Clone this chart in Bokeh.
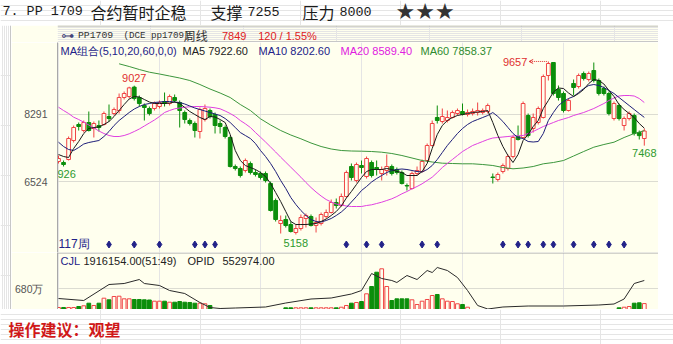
import numpy as np
from bokeh.plotting import figure
from bokeh.models import Range1d, FixedTicker, Spacer, Arrow, OpenHead
from bokeh.layouts import column, row
from bokeh.embed import file_html
from bokeh.resources import INLINE
from bokeh.core.properties import value

# ---------------- data (weekly candles, PP1709) ----------------
opens = [7056, 7030, 7108, 7602, 8018, 7862, 8070, 7914, 7992, 8018,
         8226, 8304, 8382, 8720, 8746, 8990, 8720, 8512, 8434, 8434,
         8486, 8616, 8564, 8720, 8590, 8330, 8122, 8044, 7836, 8148,
         8382, 8278, 8044, 7940, 7680, 6926, 6874, 6822, 7004, 6770,
         6744, 6744, 6484, 6042, 5444, 5548, 5418, 5210, 5314, 5574,
         5626, 5392, 5444, 5626, 5730, 5990, 5912, 6146, 6926, 6562,
         6952, 6666, 7030, 6900, 6744, 6822, 6926, 6848, 6770, 6432,
         6354, 6744, 6796, 7082, 7472, 8200, 8096, 8122, 8200, 8304,
         8356, 8278, 8304, 8330, 8330, 8356, 6653, 6588, 6796, 6874,
         7186, 7706, 7680, 8252, 7914, 8070, 8200, 9292, 9630, 8928,
         8824, 8382, 9084, 9006, 9344, 9188, 9422, 9162, 8954, 8824,
         8174, 8512, 7992, 8174, 8252, 7810, 7654]
highs = [7212, 7082, 7706, 7992, 8070, 8122, 8356, 8096, 8122, 8356,
         8538, 8460, 8824, 8876, 9000, 9027, 8772, 8564, 8486, 8616,
         8642, 8850, 8798, 8798, 8642, 8382, 8174, 8096, 8460, 8538,
         8434, 8330, 8122, 7992, 7732, 6978, 6926, 7134, 7056, 6848,
         6796, 6796, 6536, 6094, 5652, 5652, 5496, 5418, 5678, 5704,
         5678, 5600, 5730, 5808, 6068, 6094, 6224, 6822, 7004, 7030,
         7082, 7186, 7082, 7082, 6926, 7238, 6978, 6900, 6822, 6484,
         6796, 6926, 7108, 7524, 8122, 8512, 8434, 8382, 8382, 8434,
         8564, 8408, 8434, 8590, 8434, 8564, 6744, 6770, 7004, 7238,
         7732, 7992, 8616, 8304, 8304, 8486, 9318, 9657, 9640, 9032,
         8876, 8694, 9188, 9344, 9396, 9396, 9630, 9214, 9006, 8876,
         8616, 8564, 8226, 8356, 8304, 7862, 7914]
lows = [7004, 6926, 7082, 7550, 7862, 7810, 7836, 7680, 7836, 7992,
        8096, 8252, 8304, 8668, 8694, 8642, 8486, 8122, 8252, 8382,
        8434, 8486, 8512, 8590, 7940, 8044, 7992, 7680, 7654, 8096,
        8174, 7784, 7784, 7654, 6900, 6822, 6640, 6770, 6718, 6666,
        6588, 6510, 5756, 5496, 5184, 5340, 5210, 5158, 5262, 5340,
        5366, 5210, 5392, 5574, 5704, 5834, 5886, 6120, 6562, 6510,
        6744, 6614, 6640, 6692, 6562, 6692, 6692, 6718, 6458, 6302,
        6328, 6692, 6770, 7056, 7446, 8044, 8044, 8070, 8174, 8252,
        8252, 8226, 8252, 8252, 8278, 8304, 6484, 6536, 6744, 6822,
        7134, 7602, 7654, 7680, 7810, 8018, 8174, 9162, 8772, 8642,
        8330, 8356, 8772, 8954, 9162, 9136, 9110, 8772, 8772, 8252,
        8122, 8122, 7862, 8122, 7732, 7628, 7468]
closes = [7134, 6978, 7654, 7940, 7966, 8070, 7862, 8044, 7940, 8304,
          8174, 8408, 8720, 8824, 8970, 8694, 8564, 8460, 8304, 8564,
          8590, 8564, 8746, 8642, 8382, 8148, 8044, 7862, 8408, 8434,
          8226, 7992, 7966, 7706, 6926, 6874, 6692, 7082, 6770, 6718,
          6640, 6562, 5782, 5548, 5522, 5392, 5236, 5314, 5600, 5652,
          5392, 5470, 5678, 5730, 5990, 5912, 6146, 6770, 6640, 6978,
          6900, 7134, 6692, 6848, 6848, 6926, 6744, 6770, 6484, 6419,
          6744, 6822, 7056, 7472, 8044, 8122, 8226, 8200, 8330, 8382,
          8278, 8330, 8356, 8382, 8382, 8512, 6640, 6718, 6952, 7186,
          7680, 7628, 8564, 7732, 8200, 8434, 9266, 9604, 8824, 8720,
          8382, 8642, 8980, 9292, 9214, 9344, 9162, 8824, 8824, 8304,
          8564, 8174, 8174, 8304, 7784, 7729, 7849]

ma5 = [7238, 7186, 7160, 7394, 7576, 7784, 7914, 7940, 7953, 8018,
       8096, 8226, 8382, 8538, 8681, 8746, 8733, 8668, 8603, 8564,
       8564, 8564, 8577, 8603, 8564, 8460, 8356, 8278, 8200, 8148,
       8226, 8213, 8148, 8070, 7758, 7342, 7082, 6952, 6900, 6848,
       6770, 6666, 6484, 6250, 6016, 5756, 5496, 5418, 5418, 5418,
       5431, 5444, 5496, 5561, 5652, 5756, 5899, 6107, 6276, 6458,
       6640, 6796, 6848, 6848, 6848, 6874, 6848, 6796, 6770, 6692,
       6692, 6692, 6796, 7004, 7394, 7758, 7992, 8122, 8200, 8252,
       8278, 8304, 8330, 8343, 8356, 8382, 8070, 7732, 7446, 7212,
       7030, 7238, 7602, 7758, 7966, 8122, 8434, 8642, 8863, 8967,
       8954, 8837, 8746, 8824, 8928, 9084, 9188, 9162, 9071, 8902,
       8746, 8538, 8408, 8304, 8200, 8044, 7922.6]
ma10 = [7558, 7446, 7368, 7342, 7420, 7511, 7550, 7576, 7602, 7706,
        7836, 7992, 8122, 8226, 8330, 8421, 8486, 8538, 8564, 8590,
        8603, 8616, 8616, 8603, 8590, 8551, 8499, 8447, 8408, 8369,
        8330, 8291, 8252, 8174, 8070, 7940, 7810, 7732, 7654, 7524,
        7342, 7186, 7004, 6796, 6562, 6354, 6120, 5938, 5782, 5652,
        5548, 5496, 5483, 5522, 5574, 5652, 5743, 5860, 6003, 6146,
        6302, 6406, 6523, 6614, 6692, 6770, 6822, 6848, 6861, 6848,
        6822, 6796, 6783, 6848, 6952, 7108, 7290, 7472, 7628, 7784,
        7914, 8018, 8096, 8148, 8200, 8252, 8330, 8226, 8096, 7940,
        7784, 7680, 7654, 7576, 7563, 7576, 7784, 8122, 8330, 8512,
        8616, 8694, 8746, 8850, 8954, 9032, 9058, 9032, 8980, 8902,
        8824, 8720, 8616, 8512, 8408, 8304, 8202.6]
ma20 = [8468, 8382, 8304, 8208, 8148, 8078, 8005, 7927, 7849, 7784,
        7732, 7706, 7706, 7732, 7776, 7836, 7901, 7979, 8057, 8135,
        8226, 8330, 8382, 8426, 8447, 8468, 8478, 8486, 8486, 8478,
        8468, 8452, 8426, 8369, 8304, 8226, 8122, 8036, 7940, 7810,
        7688, 7563, 7433, 7303, 7168, 7038, 6908, 6778, 6648, 6510,
        6380, 6263, 6159, 6068, 6003, 5951, 5925, 5899, 5886, 5886,
        5886, 5912, 5930, 5964, 5998, 6042, 6086, 6146, 6216, 6276,
        6346, 6406, 6476, 6562, 6648, 6770, 6900, 7004, 7108, 7212,
        7316, 7394, 7472, 7524, 7576, 7628, 7667, 7680, 7693, 7706,
        7719, 7724, 7732, 7784, 7836, 7901, 7966, 8018, 8070, 8122,
        8161, 8200, 8252, 8291, 8330, 8382, 8434, 8499, 8564, 8642,
        8707, 8759, 8772, 8772, 8759, 8694, 8589.4]
ma60_idx = list(range(12, 117, 2))
ma60 = [9596, 9526, 9448, 9378, 9331, 9279, 9227, 9162, 9058, 8941,
        8837, 8720, 8538, 8382, 8166, 8005, 7862, 7745, 7646, 7537,
        7446, 7381, 7342, 7329, 7324, 7316, 7298, 7264, 7212, 7147,
        7082, 7043, 7012, 7004, 6996, 6996, 6978, 6952, 6900, 6866,
        6887, 6926, 6996, 7030, 7082, 7199, 7316, 7428, 7498, 7558,
        7680, 7784, 7858.37]

# volume in 10k lots (万)
volume_wan = [65, 65, 65, 65, 97, 120, 204, 130, 204, 366,
              314, 421, 431, 346, 346, 324, 324, 314, 308, 269,
              269, 269, 236, 236, 259, 236, 227, 204, 204, 185,
              130, 0, 0, 0, 0, 0, 0, 0, 0, 0,
              0, 0, 0, 0, 0, 55, 55, 55, 55, 55,
              55, 55, 55, 55, 55, 55, 74, 130, 204, 227,
              259, 508, 745, 1208, 1318, 745, 291, 346, 346, 346,
              314, 162, 269, 324, 453, 486, 346, 269, 259, 185,
              162, 74, 0, 0, 0, 0, 0, 0, 0, 0,
              0, 0, 0, 0, 0, 0, 0, 0, 0, 0,
              0, 0, 0, 0, 0, 0, 0, 0, 0, 0,
              0, 55, 74, 97, 204, 217, 191.6154]
opid_idx = [0, 5, 10, 13, 16, 17, 20, 22, 25, 28, 30, 32, 35, 41, 45, 50, 54, 58, 60, 62,
            64, 66, 67, 69, 71, 73, 74, 75, 77, 79, 81, 83, 85, 88, 93, 100, 107, 110, 112, 114, 116]
opid = [209748, 171612, 476700, 495768, 572040, 495768, 457632, 362292, 305088, 133476,
        38136, 19068, 28602, 47670, 123942, 200214, 219282, 295554, 362292, 686448,
        591108, 552972, 514836, 648312, 572040, 743652, 705516, 800856, 743652, 610176,
        362292, 76272, 9534, 47670, 66738, 66738, 85806, 104874, 200214, 495768, 552974]

signal_idx = [10, 15, 20, 27, 29, 31, 57, 61, 64, 72, 75, 88, 91, 93, 96, 98, 102, 106, 109, 112]

price_ticks = [6524, 8291]
vol_ticks = [6800000]
vol_tick_labels = ["680万"]

# ---------------- style ----------------
CREAM = "#FFFFEE"
RED = "#F04444"
GREEN = "#0B8E0B"
AXIS = "#A8A8A8"
GRID = "#DCDCD2"
NAVY = "#222288"

N = len(closes)
idx = list(range(N))
up = [c >= o for o, c in zip(opens, closes)]
colors = [RED if u else GREEN for u in up]
fills = [CREAM if u else GREEN for u in up]
body_top = [max(o, c) for o, c in zip(opens, closes)]
body_bot = [min(o, c) for o, c in zip(opens, closes)]


def pix_fig(w, h, bg):
    p = figure(width=w, height=h, x_range=Range1d(0, w), y_range=Range1d(h, 0),
               output_backend="svg", toolbar_location=None,
               x_axis_location=None, y_axis_location=None)
    p.min_border_left = p.min_border_right = p.min_border_top = p.min_border_bottom = 0
    p.background_fill_color = bg
    p.border_fill_color = bg
    p.outline_line_color = None
    return p


def txt(p, x, y, s, color, size, font, align="left", baseline="middle", style="normal", **kw):
    p.text(x=[x], y=[y], text=[s], text_color=color, text_font_size=size,
           text_font=value(font), text_align=align, text_baseline=baseline,
           text_font_style=style, **kw)


# ---------------- title ----------------
ft = pix_fig(673, 25, "white")
TC = "#1a1a1a"
txt(ft, 2, 11, "7. PP 1709", TC, "13.4px", "Liberation Mono")
txt(ft, 90, 11, "合约暂时企稳", TC, "16px", "Noto Sans CJK SC")
txt(ft, 210, 11, "支撑", TC, "16px", "Noto Sans CJK SC")
txt(ft, 247, 11, "7255", TC, "13.4px", "Liberation Mono")
txt(ft, 302, 11, "压力", TC, "16px", "Noto Sans CJK SC")
txt(ft, 339, 11, "8000", TC, "13.4px", "Liberation Mono")
txt(ft, 395, 11, "★★★", "#333333", "22px", "DejaVu Sans")

# ---------------- left border strip ----------------
lb = pix_fig(11, 284, "white")
lb.segment(x0=[10.5], y0=[0], x1=[10.5], y1=[284], line_color=AXIS, line_width=1)

# ---------------- header row ----------------
fh = pix_fig(647, 17, CREAM)
fh.segment(x0=[0], y0=[0.5], x1=[647], y1=[0.5], line_color=AXIS, line_width=1)
fh.segment(x0=[46], y0=[16.5], x1=[647], y1=[16.5], line_color=AXIS, line_width=1)
txt(fh, 4, 9.5, "⊶", "#44447a", "13px", "DejaVu Sans")
txt(fh, 22, 9.5, "PP1709", "#333333", "9.8px", "Liberation Mono")
txt(fh, 71, 9.5, "(DCE pp1709)", "#333333", "9.2px", "Liberation Mono")
txt(fh, 136, 9.5, "周线", "#333333", "12px", "Noto Sans CJK SC")
txt(fh, 177, 10, "7849", "#E02020", "11px", "Liberation Sans")
txt(fh, 216, 10, "120 / 1.55%", "#E02020", "11px", "Liberation Sans")

# ---------------- main price chart ----------------
xr = Range1d(-1 / 5.05, 600 / 5.05)
pm = figure(width=647, height=210, x_range=xr, y_range=Range1d(4690, 10150),
            output_backend="svg", toolbar_location=None,
            x_axis_location=None, y_axis_location="left")
pm.min_border_left = 46
pm.min_border_right = pm.min_border_top = pm.min_border_bottom = 0
pm.background_fill_color = CREAM
pm.border_fill_color = CREAM
pm.outline_line_color = None
pm.extra_x_ranges = {"px": Range1d(0, 601)}
pm.extra_y_ranges = {"py": Range1d(210, 0)}
ya = pm.yaxis[0]
ya.ticker = FixedTicker(ticks=price_ticks)
ya.major_label_overrides = {t: str(t) for t in price_ticks}
ya.major_tick_line_color = None
ya.minor_tick_line_color = None
ya.axis_line_color = AXIS
ya.major_label_text_color = "#555555"
ya.major_label_text_font = "Liberation Sans"
ya.major_label_text_font_size = "10.5px"
ya.major_label_standoff = 4
pm.ygrid.grid_line_color = GRID

pm.segment(x0=idx, y0=lows, x1=idx, y1=highs, line_color=colors, line_width=1)
pm.vbar(x=idx, width=0.74, bottom=body_bot, top=body_top, fill_color=fills,
        line_color=colors, line_width=1)

pm.line(ma60_idx, ma60, line_color="#3C963C", line_width=1)
pm.line(idx, ma20, line_color="#E040E0", line_width=1)
pm.line(idx, ma10, line_color="#1E1E78", line_width=1)
pm.line(idx, ma5, line_color="#1A1A1A", line_width=1)

# extreme labels
hi1 = int(np.argmax(highs[:60]))
lo1 = int(np.argmin(lows[:30]))
lo_all = int(np.argmin(lows))
hi_all = int(np.argmax(highs))
LF = "Liberation Sans"
txt(pm, hi1, highs[hi1], str(highs[hi1]), "#E03030", "11px", LF, align="center",
    baseline="bottom", y_offset=-4)
txt(pm, lo1, lows[lo1], str(lows[lo1]), "#2E9A2E", "11px", LF, align="center",
    baseline="top", y_offset=3)
txt(pm, lo_all, lows[lo_all], str(lows[lo_all]), "#2E9A2E", "11px", LF, align="center",
    baseline="top", y_offset=4)
txt(pm, hi_all, highs[hi_all], str(highs[hi_all]), "#E03030", "11px", LF, align="right",
    baseline="middle", x_offset=-21, y_offset=1)
txt(pm, N - 1, lows[-1], str(lows[-1]), "#2E9A2E", "11px", LF, align="center",
    baseline="top", y_offset=3)
pm.add_layout(Arrow(end=OpenHead(size=4, line_color="#E03030", line_width=1),
                    x_start=hi_all - 0.3, y_start=highs[hi_all],
                    x_end=hi_all - 3.8, y_end=highs[hi_all],
                    line_color="#E03030", line_width=1, line_dash="1 1"))

# legend row
txt(pm, 3, 8, "MA组合(5,10,20,60,0,0)", NAVY, "11px", LF, x_range_name="px", y_range_name="py")
txt(pm, 125, 8, f"MA5 {ma5[-1]:.2f}", "#222222", "11px", LF, x_range_name="px", y_range_name="py")
txt(pm, 201, 8, f"MA10 {ma10[-1]:.2f}", NAVY, "11px", LF, x_range_name="px", y_range_name="py")
txt(pm, 283, 8, f"MA20 {ma20[-1]:.2f}", "#E020E0", "11px", LF, x_range_name="px", y_range_name="py")
txt(pm, 363, 8, f"MA60 {ma60[-1]:.2f}", "#2E8B2E", "11px", LF, x_range_name="px", y_range_name="py")

# period count and signal markers
txt(pm, 1, 201, f"{N}周", NAVY, "12px", LF, x_range_name="px", y_range_name="py")
pm.scatter(x=signal_idx, y=[202] * len(signal_idx), y_range_name="py", marker="diamond",
           size=7, fill_color=NAVY, line_color=NAVY)

# ---------------- volume pane ----------------
pv = figure(width=647, height=57, x_range=xr, y_range=Range1d(0, 18457170),
            output_backend="svg", toolbar_location=None,
            x_axis_location=None, y_axis_location="left")
pv.min_border_left = 46
pv.min_border_right = pv.min_border_top = pv.min_border_bottom = 0
pv.background_fill_color = CREAM
pv.border_fill_color = CREAM
pv.outline_line_color = None
pv.extra_y_ranges = {"oi": Range1d(0, 1086876), "py": Range1d(57, 0)}
pv.extra_x_ranges = {"px": Range1d(0, 601)}
va = pv.yaxis[0]
va.ticker = FixedTicker(ticks=vol_ticks)
va.major_label_overrides = dict(zip(vol_ticks, vol_tick_labels))
va.major_tick_line_color = None
va.minor_tick_line_color = None
va.axis_line_color = AXIS
va.major_label_text_color = "#555555"
va.major_label_text_font = "Liberation Sans"
va.major_label_text_font_size = "10.5px"
va.major_label_standoff = 8
pv.ygrid.grid_line_color = GRID

vol = [v * 10000 for v in volume_wan]
vmask = [i for i in idx if vol[i] > 0]
pv.vbar(x=vmask, width=0.74, bottom=0, top=[vol[i] for i in vmask],
        fill_color=[fills[i] for i in vmask], line_color=[colors[i] for i in vmask], line_width=1)
pv.line(opid_idx, opid, y_range_name="oi", line_color="#2a2a2a", line_width=1)
pv.segment(x0=[0], y0=[0.5], x1=[601], y1=[0.5], x_range_name="px", y_range_name="py",
           line_color=AXIS, line_width=1)
txt(pv, 3, 8.5, "CJL", NAVY, "11px", LF, x_range_name="px", y_range_name="py")
txt(pv, 26, 8.5, f"{volume_wan[-1] * 10000:.2f}(51:49)", "#222222", "11px", LF,
    x_range_name="px", y_range_name="py")
txt(pv, 130, 8.5, "OPID", "#222222", "11px", LF, x_range_name="px", y_range_name="py")
txt(pv, 165, 8.5, f"{opid[-1]:.2f}", "#222222", "11px", LF, x_range_name="px", y_range_name="py")

# ---------------- footer ----------------
ff = pix_fig(673, 35, "white")
txt(ff, 8, 19, "操作建议：观望", "#D01818", "16px", "Noto Sans CJK SC", style="bold")

body = row(lb, column(fh, pm, pv), Spacer(width=15, height=284))
page = column(ft, body, ff)

open("out.html", "w").write(file_html(page, INLINE, title="PP1709"))
